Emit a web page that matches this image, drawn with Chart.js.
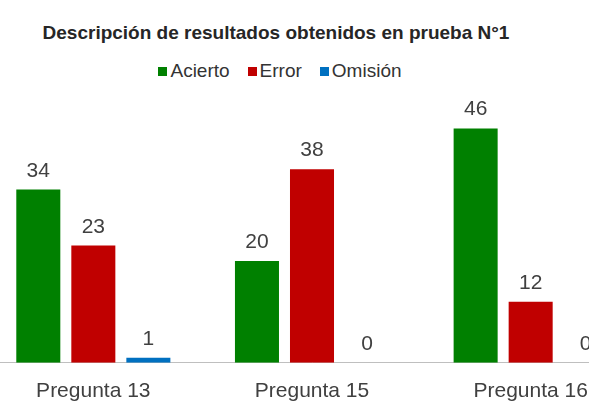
<!DOCTYPE html>
<html>
<head>
<meta charset="utf-8">
<script src="https://cdn.jsdelivr.net/npm/chart.js@4.4.1/dist/chart.umd.min.js"></script>
<style>
  html, body { margin: 0; padding: 0; background: #fff; }
  body { width: 589px; height: 401px; position: relative; overflow: hidden; font-family: "Liberation Sans", Arial, sans-serif; }
  #title { position: absolute; left: 0; top: 22px; width: 552px; text-align: center; font-weight: bold; font-size: 19px; line-height: 22px; color: #262626; }
  #legend { position: absolute; left: 0; top: 59px; width: 560px; text-align: center; font-size: 19px; line-height: 24px; color: #333; }
  #legend .item { display: inline-block; margin: 0 9px; }
  #legend .box { display: inline-block; width: 9px; height: 9px; margin-right: 3px; vertical-align: 1px; }
  #wrap { position: absolute; left: -16px; top: 92px; width: 656px; height: 320px; }
</style>
</head>
<body>
<div id="title">Descripción de resultados obtenidos en prueba N°1</div>
<div id="legend"></div>
<div id="wrap"><canvas id="mycanvas"></canvas></div>
<script>
var preguntas = ["Pregunta 13", "Pregunta 15", "Pregunta 16"];
var acierto = [34, 20, 46];
var error = [23, 38, 12];
var omision = [1, 0, 0];

// value labels above each bar
var valueLabels = {
  id: 'valueLabels',
  afterDatasetsDraw: function(chart) {
    var ctx = chart.ctx;
    ctx.save();
    ctx.font = '21px "Liberation Sans", Arial, sans-serif';
    ctx.fillStyle = '#404040';
    ctx.textAlign = 'center';
    ctx.textBaseline = 'alphabetic';
    chart.data.datasets.forEach(function(ds, i) {
      chart.getDatasetMeta(i).data.forEach(function(bar, j) {
        ctx.fillText(ds.data[j], bar.x, bar.y - 13);
      });
    });
    ctx.restore();
  }
};

var chartdata = {
  labels: preguntas,
  datasets: [
    { label: "Acierto", backgroundColor: "#008000", data: acierto },
    { label: "Error", backgroundColor: "#c00000", data: error },
    { label: "Omisión", backgroundColor: "#0070c0", data: omision }
  ]
};

var ctx = document.getElementById('mycanvas');
var barGraph = new Chart(ctx, {
  type: 'bar',
  data: chartdata,
  plugins: [valueLabels],
  options: {
    responsive: true,
    maintainAspectRatio: false,
    animation: false,
    layout: { padding: { top: 16, left: 0, right: 0, bottom: 0 } },
    datasets: { bar: { categoryPercentage: 0.755, barPercentage: 0.8 } },
    scales: {
      x: {
        grid: { display: false },
        border: { color: '#bfbfbf', width: 1 },
        ticks: { color: '#404040', padding: 8, font: { family: '"Liberation Sans", Arial, sans-serif', size: 21 } }
      },
      y: { display: false, min: 0, max: 50 }
    },
    plugins: {
      legend: { display: false },
      tooltip: { enabled: false }
    }
  }
});

// legend built from the chart's datasets
var legendEl = document.getElementById('legend');
barGraph.data.datasets.forEach(function(ds) {
  var item = document.createElement('span');
  item.className = 'item';
  item.innerHTML = '<span class="box" style="background:' + ds.backgroundColor + '"></span>' + ds.label;
  legendEl.appendChild(item);
});
</script>
</body>
</html>
